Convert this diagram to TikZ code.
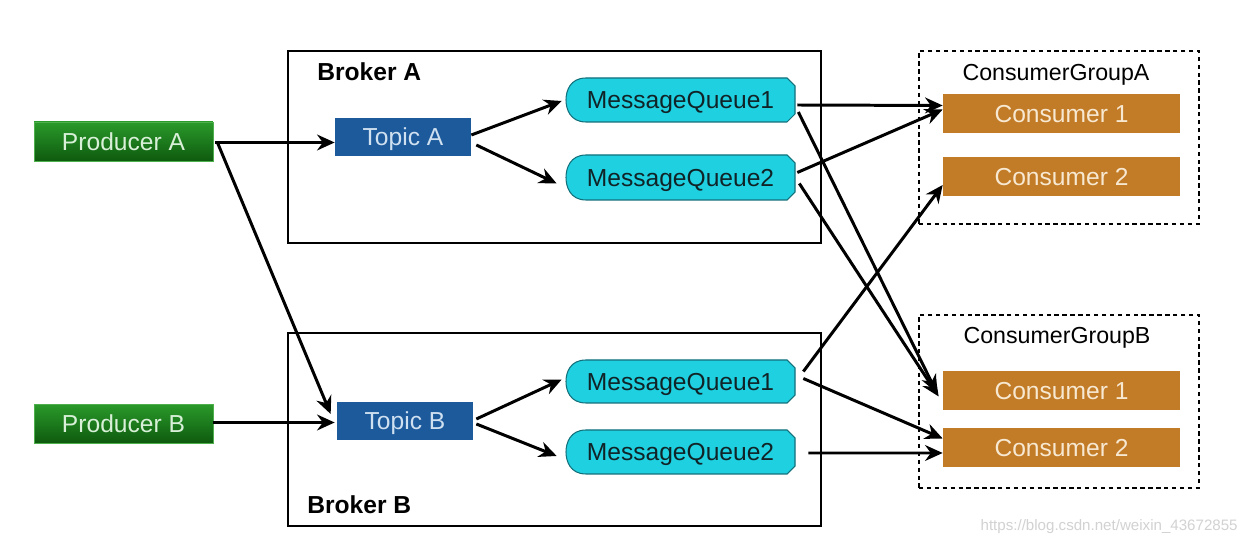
\documentclass[tikz,border=0pt]{standalone}
\usepackage{fontspec}
\setmainfont{Liberation Sans}
\usetikzlibrary{arrows.meta,calc}
\definecolor{prodTop}{HTML}{2A9A2A}
\definecolor{prodBot}{HTML}{0E5A0E}
\definecolor{prodBorder}{HTML}{4DB04D}
\definecolor{prodText}{HTML}{D8F0D8}
\definecolor{topicBlue}{HTML}{1D5A9C}
\definecolor{topicText}{HTML}{CFE0F0}
\definecolor{qFill}{HTML}{1FD0E0}
\definecolor{qBorder}{HTML}{12707A}
\definecolor{qText}{HTML}{102428}
\definecolor{consFill}{HTML}{C27B26}
\definecolor{consText}{HTML}{F7E8D2}
\definecolor{wmark}{HTML}{D2D2D2}
\newcommand\mqueue[5]{%
  \filldraw[qshape] ({#2+114.5-8},{#3-#4/2}) -- ({#2+114.5},{#3-#4/2+8}) -- ({#2+114.5},{#3+#4/2-8}) -- ({#2+114.5-8},{#3+#4/2}) -- ({#2-114.5+20},{#3+#4/2}) .. controls ({#2-114.5+4},{#3+#4/2}) and ({#2-114.5},{#3+9}) .. ({#2-114.5},{#3}) .. controls ({#2-114.5},{#3-9}) and ({#2-114.5+4},{#3-#4/2}) .. ({#2-114.5+20},{#3-#4/2}) -- cycle;
  \node[qtext] (#1) at (#2,#3) {#5};}
\begin{document}
\begin{tikzpicture}[x=0.02cm,y=-0.02cm,
  lbl/.style={font=\fontsize{14}{16}\selectfont, text height=10pt, text depth=0pt},
  prod/.style={rectangle, draw=prodBorder, line width=0.5pt, top color=prodTop, bottom color=prodBot, text=prodText, minimum width=3.58cm, minimum height=0.78cm, inner sep=0pt, lbl},
  topic/.style={rectangle, fill=topicBlue, text=topicText, minimum width=2.72cm, minimum height=0.76cm, inner sep=0pt, lbl},
  qshape/.style={fill=qFill, draw=qBorder, line width=0.6pt},
  qtext/.style={inner sep=0pt, text=qText, lbl, minimum width=4.58cm, minimum height=0.86cm},
  cons/.style={rectangle, fill=consFill, text=consText, minimum width=4.74cm, minimum height=0.78cm, inner sep=0pt, lbl},
  arr/.style={-{Stealth[length=10pt,width=9pt]}, line width=1.7pt},
  broker/.style={draw, line width=1.1pt, anchor=north west, inner sep=0pt},
  group/.style={draw, line width=1.1pt, dash pattern=on 2.5pt off 2pt, anchor=north west, inner sep=0pt},
  blbl/.style={font=\fontsize{14}{16}\selectfont\bfseries, anchor=west, inner sep=0pt, text height=10pt, text depth=0pt},
  glbl/.style={font=\fontsize{13.2}{15}\selectfont, inner sep=0pt, text height=9.5pt, text depth=0pt}
]
\useasboundingbox (0,0) rectangle (1247,546);
\fill[white] (0,0) rectangle (1247,546);

% containers
\node[broker, minimum width=10.66cm, minimum height=3.84cm] (brA) at (287,50) {};
\node[broker, minimum width=10.66cm, minimum height=3.86cm] (brB) at (287,332) {};
\node[group, minimum width=5.6cm, minimum height=3.46cm] (gA) at (918,50) {};
\node[group, minimum width=5.6cm, minimum height=3.46cm] (gB) at (918,314) {};
\node[blbl] (brAl) at (317,72) {Broker A};
\node[blbl] (brBl) at (307,505) {Broker B};
\node[glbl] (gAl) at (1056,72) {ConsumerGroupA};
\node[glbl] (gBl) at (1057,335) {ConsumerGroupB};

% producers and topics
\node[prod] (pA) at (123.5,141.5) {Producer A};
\node[prod] (pB) at (123.5,423.5) {Producer B};
\node[topic] (tA) at (403,137) {Topic A};
\node[topic] (tB) at (405,421) {Topic B};

% queues
\mqueue{qA1}{680.5}{100}{44}{MessageQueue1}
\mqueue{qA2}{680.5}{177.5}{45}{MessageQueue2}
\mqueue{qB1}{680.5}{381.5}{43}{MessageQueue1}
\mqueue{qB2}{680.5}{452}{44}{MessageQueue2}

% consumers
\node[cons] (cA1) at (1061.5,113.5) {Consumer 1};
\node[cons] (cA2) at (1061.5,177) {Consumer 2};
\node[cons] (cB1) at (1061.5,390.5) {Consumer 1};
\node[cons] (cB2) at (1061.5,447.5) {Consumer 2};

% arrows
\draw[arr] ($(pA.east)+(2,1)$) -- ($(tA.west)+(0,5.5)$);
\draw[arr] ($(pA.east)+(4,1)$) -- ($(tB.west)+(-6,-7)$);
\draw[arr] ($(pB.east)+(0,-1)$) -- ($(tB.west)+(-2,1.5)$);
\draw[arr] ($(tA.east)+(0,-2)$) -- ($(qA1.west)+(-4,1)$);
\draw[arr] ($(tA.east)+(5,8)$) -- ($(qA2.west)+(-9,6)$);
\draw[arr] ($(tB.east)+(3,-2)$) -- ($(qB1.west)+(-4,-2)$);
\draw[arr] ($(tB.east)+(3,3)$) -- ($(qB2.west)+(-9,4)$);

\draw[arr] ($(qA1.east)+(2,5)$) -- ($(cA1.west)+(0,-8)$);
\draw[arr] ($(qA1.east)+(3,12)$) -- ($(cB1.west)+(-6,2)$);
\draw[arr] ($(qA2.east)+(2,-5)$) -- ($(cA1.west)+(0,-4)$);
\draw[arr] ($(qA2.east)+(4,6)$) -- ($(cB1.west)+(-4,6)$);
\draw[arr] ($(qB1.east)+(8,-10)$) -- ($(cA2.west)+(0,8)$);
\draw[arr] ($(qB1.east)+(8,-3)$) -- ($(cB2.west)+(0,-9)$);
\draw[arr] ($(qB2.east)+(13,1)$) -- ($(cB2.west)+(0,5.5)$);

% watermark
\node[text=wmark, font=\fontsize{8.6}{10}\selectfont, anchor=east, inner sep=0pt] (wm) at (1238,527) {https://blog.csdn.net/weixin\_43672855};
\end{tikzpicture}
\end{document}
